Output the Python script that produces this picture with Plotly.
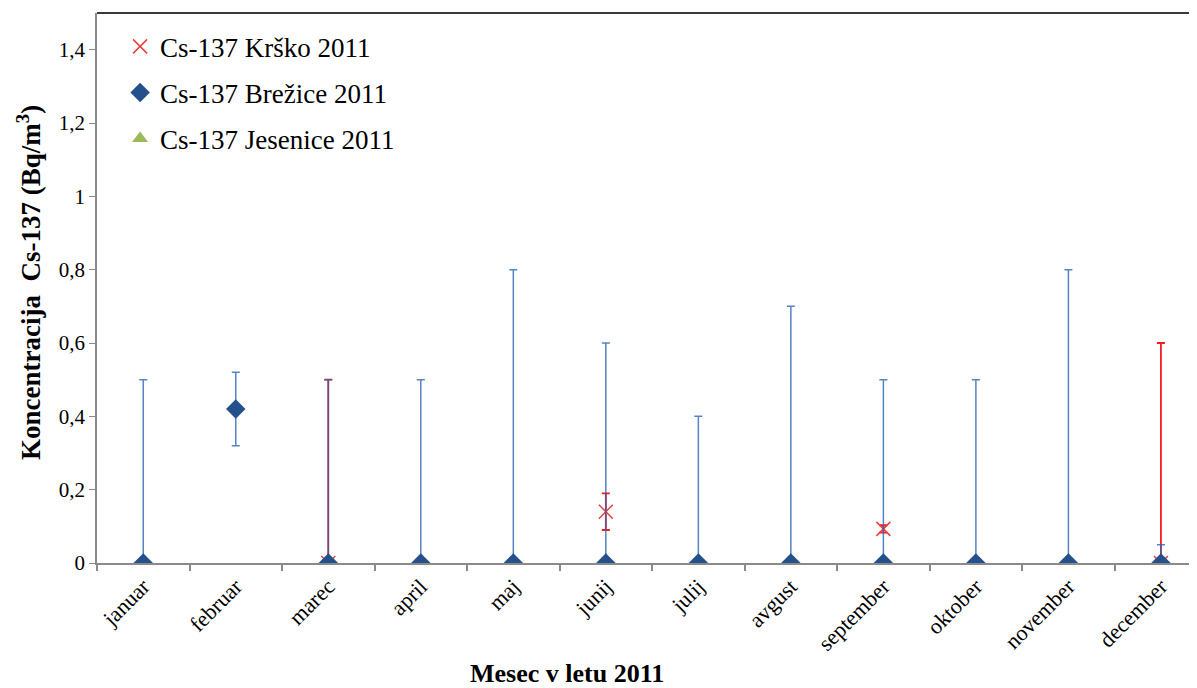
import plotly.graph_objects as go

months = ["januar", "februar", "marec", "april", "maj", "junij", "julij",
          "avgust", "september", "oktober", "november", "december"]

# Brežice
brezice_val = [0, 0.42, 0, 0, 0, 0, 0, 0, 0, 0, 0, 0]
brezice_err_plus = [0.5, 0.10, 0.5, 0.5, 0.8, 0.6, 0.4, 0.7, 0.5, 0.5, 0.8, 0.05]
brezice_err_minus = [0, 0.10, 0, 0, 0, 0, 0, 0, 0, 0, 0, 0]

# Krško
krsko_val = [None, None, 0, None, None, 0.14, None, None, 0.093, None, None, 0]
krsko_err_plus = [0, 0, 0.5, 0, 0, 0.05, 0, 0, 0.01, 0, 0, 0.6]
krsko_err_minus = [0, 0, 0, 0, 0, 0.05, 0, 0, 0.01, 0, 0, 0]

# Jesenice (no visible values)
jesenice_val = [None] * 12

FONT = "Liberation Serif, Times New Roman, serif"

fig = go.Figure()

fig.add_trace(go.Scatter(
    x=months, y=krsko_val, mode="markers", name="Cs-137 Krško 2011",
    legendgroup="a", legendrank=1,
    marker=dict(symbol="x-thin-open", size=14, color="#E8403C",
                line=dict(width=1.5, color="#E8403C")),
    error_y=dict(type="data", symmetric=False, array=krsko_err_plus,
                 arrayminus=krsko_err_minus, color="#FF1A1A", thickness=1.8, width=4),
))

fig.add_trace(go.Scatter(
    x=months, y=brezice_val, mode="markers", name="Cs-137 Brežice 2011",
    legendgroup="b", legendrank=2,
    marker=dict(symbol="diamond", size=15, color="#24508C"),
    error_y=dict(type="data", symmetric=False, array=brezice_err_plus,
                 arrayminus=brezice_err_minus, color="rgba(45,100,180,0.8)",
                 thickness=1.5, width=4),
))

fig.add_trace(go.Scatter(
    x=months, y=jesenice_val, mode="markers", name="Cs-137 Jesenice 2011",
    legendgroup="c", legendrank=3,
    marker=dict(symbol="triangle-up", size=14, color="#9BBB59"),
))

fig.update_layout(
    width=1189, height=680,
    margin=dict(l=89, r=0, t=5, b=125),
    paper_bgcolor="white", plot_bgcolor="white",
    separators=",.",
    font=dict(family=FONT, size=20, color="black"),
    showlegend=True,
    legend=dict(x=0.021, y=0.983, xanchor="left", yanchor="top",
                font=dict(family=FONT, size=27, color="black"),
                bgcolor="rgba(0,0,0,0)", tracegroupgap=8, itemwidth=30),
    xaxis=dict(type="category", categoryorder="array", categoryarray=months,
               range=[-0.5, 11.39], showline=True, linecolor="#8A8A8A", linewidth=2,
               ticks="outside", tickson="boundaries", ticklen=6, tickcolor="#8A8A8A",
               tickwidth=1.5, tickangle=-45, showgrid=False, zeroline=False,
               tickfont=dict(family=FONT, size=22, color="black")),
    yaxis=dict(range=[0, 1.5], dtick=0.2, tick0=0, showline=True, linecolor="#8A8A8A",
               linewidth=1.5, ticks="outside", ticklen=6, tickcolor="#8A8A8A",
               showgrid=False, zeroline=False,
               tickfont=dict(family=FONT, size=21, color="black")),
    shapes=[dict(type="line", xref="paper", yref="paper", x0=0, x1=1, y0=1, y1=1,
                 line=dict(color="#3A3A3A", width=2))],
    annotations=[
        dict(text="<b>Mesec v letu 2011</b>", xref="paper", yref="paper",
             x=(567 - 97) / 1100, y=-(673 - 563) / 550, xanchor="center", yanchor="middle",
             showarrow=False, borderpad=0, font=dict(family=FONT, size=26, color="black")),
        dict(text="<b>Koncentracija  Cs-137 (Bq/m<sup>3</sup>)</b>", xref="paper", yref="paper",
             x=-(97 - 29) / 1100, y=(563 - 283) / 550, xanchor="center", yanchor="middle",
             textangle=-90, showarrow=False, font=dict(family=FONT, size=27, color="black")),
    ],
)

fig.write_html("out.html")
